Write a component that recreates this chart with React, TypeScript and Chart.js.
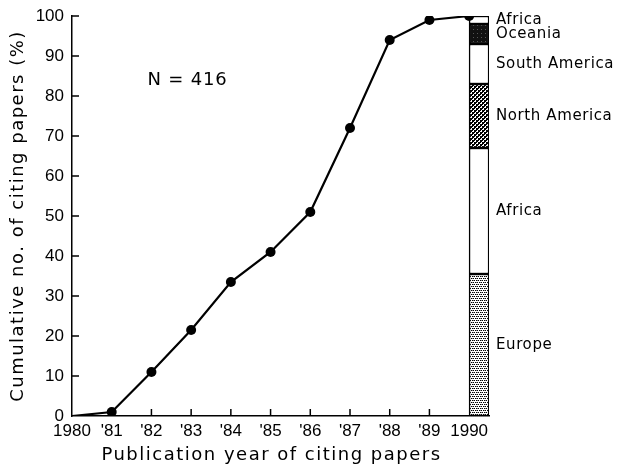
import React, { useEffect, useRef } from "react";
import { Chart, registerables } from "chart.js";

Chart.register(...registerables);

const years = [1980, 1981, 1982, 1983, 1984, 1985, 1986, 1987, 1988, 1989, 1990];
const yearTickLabels = ["1980", "'81", "'82", "'83", "'84", "'85", "'86", "'87", "'88", "'89", "1990"];
const cumulativePercent = [0, 1, 11, 21.5, 33.5, 41, 51, 72, 94, 99, 100];
const yTicks = [0, 10, 20, 30, 40, 50, 60, 70, 80, 90, 100];

const regionNames = ["Europe", "Africa", "North America", "South America", "Oceania", "Africa"];
const regionShares = [35.5, 31.5, 16, 10, 5, 2];
const regionPatterns = ["lightDots", "blank", "denseDots", "blank", "dark", "blank"];

const barYear = 1990.25;
const annotationText = "N = 416";
const annotationPos = { x: 1981.9, y: 84 };
const xTitle = "Publication year of citing papers";
const yTitle = "Cumulative no. of citing papers (%)";

const FONT = "'DejaVu Sans', sans-serif";
const TICK_FONT = "'Liberation Sans', Arial, sans-serif";

function makePattern(kind: string): CanvasPattern | string {
  if (kind === "blank") return "#ffffff";
  const c = document.createElement("canvas");
  c.width = 4;
  c.height = 4;
  const g = c.getContext("2d")!;
  g.fillStyle = "#ffffff";
  g.fillRect(0, 0, 4, 4);
  g.fillStyle = "#000000";
  if (kind === "lightDots") {
    g.fillRect(0, 0, 1, 1);
    g.fillRect(2, 0, 1, 1);
    g.fillRect(1, 2, 1, 1);
    g.fillRect(3, 2, 1, 1);
    g.fillStyle = "#888888";
    g.fillRect(1, 0, 1, 1);
    g.fillRect(0, 2, 1, 1);
  } else if (kind === "denseDots") {
    g.fillRect(0, 0, 2, 2);
    g.fillRect(2, 2, 2, 2);
    g.fillRect(2, 0, 1, 1);
    g.fillRect(0, 2, 1, 1);
  } else if (kind === "dark") {
    g.fillStyle = "#111111";
    g.fillRect(0, 0, 4, 4);
    g.fillStyle = "#555555";
    g.fillRect(1, 1, 1, 1);
  }
  return g.createPattern(c, "repeat")!;
}

export default function App() {
  const ref = useRef<HTMLCanvasElement>(null);

  useEffect(() => {
    const canvas = ref.current!;
    const bounds: number[] = [];
    let acc = 0;
    regionShares.forEach((s) => {
      bounds.push(acc);
      acc += s;
    });

    const barDatasets: any[] = regionShares.map((s, i) => ({
      type: "bar",
      label: regionNames[i],
      data: [{ x: barYear, y: [bounds[i], bounds[i] + s] }],
      backgroundColor: makePattern(regionPatterns[i]),
      borderColor: "#000",
      borderWidth: 1.5,
      borderSkipped: false,
      barThickness: 20,
      grouped: false,
      order: 2,
    }));

    const tickPlugin = {
      id: "inwardTicksAndLabels",
      afterDraw(chart: any) {
        const ctx = chart.ctx;
        const xs = chart.scales.x;
        const ys = chart.scales.y;
        const area = chart.chartArea;
        ctx.save();
        ctx.strokeStyle = "#000";
        ctx.lineWidth = 1.5;
        years.slice(1, -1).forEach((yr) => {
          const px = xs.getPixelForValue(yr);
          ctx.beginPath();
          ctx.moveTo(px, area.bottom);
          ctx.lineTo(px, area.bottom - 7);
          ctx.stroke();
        });
        yTicks.slice(1).forEach((v) => {
          const py = ys.getPixelForValue(v);
          ctx.beginPath();
          ctx.moveTo(area.left, py);
          ctx.lineTo(area.left + 7, py);
          ctx.stroke();
        });
        ctx.fillStyle = "#000";
        // region labels
        (ctx as any).letterSpacing = "0.6px";
        ctx.font = `15px ${FONT}`;
        ctx.textAlign = "left";
        ctx.textBaseline = "middle";
        regionNames.forEach((name, i) => {
          const mid = bounds[i] + regionShares[i] / 2;
          ctx.fillText(name, area.right + 7, ys.getPixelForValue(mid));
        });
        // annotation
        (ctx as any).letterSpacing = "0.8px";
        ctx.font = `18px ${FONT}`;
        ctx.fillText(annotationText, xs.getPixelForValue(annotationPos.x), ys.getPixelForValue(annotationPos.y));
        // axis titles
        (ctx as any).letterSpacing = "1.5px";
        ctx.font = `18px ${FONT}`;
        ctx.textAlign = "center";
        ctx.fillText(xTitle, (area.left + area.right) / 2 - 9, 455);
        ctx.translate(18, (area.top + area.bottom) / 2);
        ctx.rotate(-Math.PI / 2);
        ctx.fillText(yTitle, 0, 0);
        ctx.restore();
      },
    };

    const chart = new Chart(canvas, {
      type: "line",
      data: {
        datasets: [
          {
            type: "line",
            label: "Cumulative",
            data: years.map((y, i) => ({ x: y, y: cumulativePercent[i] })),
            borderColor: "#000",
            backgroundColor: "#000",
            borderWidth: 2.2,
            pointRadius: years.map((_, i) => (i === 0 ? 0 : 5)),
            pointBackgroundColor: "#000",
            pointBorderWidth: 0,
            tension: 0,
            order: 1,
          } as any,
          ...barDatasets,
        ],
      },
      plugins: [tickPlugin],
      options: {
        responsive: false,
        animation: false,
        events: [],
        layout: { padding: { left: 0, right: 131, top: 16, bottom: 0 } },
        plugins: { legend: { display: false }, tooltip: { enabled: false } },
        scales: {
          x: {
            type: "linear",
            min: 1980,
            max: 1990.5,
            offset: false,
            grid: { display: false, drawTicks: false, tickLength: 0 },
            border: { display: true, color: "#000", width: 1.5 },
            afterBuildTicks: (scale: any) => {
              scale.ticks = years.map((v) => ({ value: v }));
            },
            afterFit: (scale: any) => {
              scale.height = 56;
              scale.paddingLeft = 0;
              scale.paddingRight = 0;
            },
            ticks: {
              color: "#000",
              padding: 5,
              maxRotation: 0,
              autoSkip: false,
              font: { family: TICK_FONT, size: 17 },
              callback: (v: any) => {
                const i = years.indexOf(Number(v));
                return i >= 0 ? yearTickLabels[i] : "";
              },
            },
            title: { display: false, text: xTitle },
          },
          y: {
            type: "linear",
            min: 0,
            max: 100,
            stacked: false,
            grid: { display: false, drawTicks: false, tickLength: 0 },
            border: { display: true, color: "#000", width: 1.5 },
            afterBuildTicks: (scale: any) => {
              scale.ticks = yTicks.map((v) => ({ value: v }));
            },
            afterFit: (scale: any) => {
              scale.width = 72;
              scale.paddingTop = 0;
              scale.paddingBottom = 0;
            },
            ticks: {
              color: "#000",
              padding: 8,
              font: { family: TICK_FONT, size: 17 },
            },
            title: { display: false, text: yTitle },
          },
        },
      } as any,
    });
    return () => chart.destroy();
  }, []);

  return (
    <div style={{ position: "fixed", left: 0, top: 0, width: 620, height: 472, background: "#fff" }}>
      <canvas ref={ref} width={620} height={472} />
    </div>
  );
}
